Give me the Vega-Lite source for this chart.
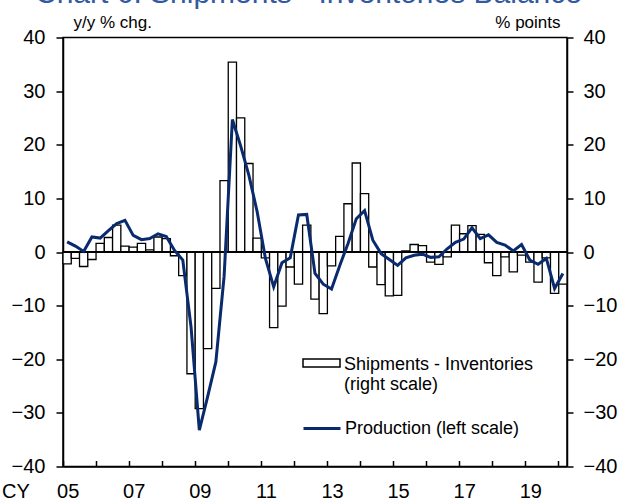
{
  "$schema": "https://vega.github.io/schema/vega-lite/v6.json",
  "autosize": {"type": "none"},
  "padding": {"left": 63, "top": 37.5, "right": 52, "bottom": 34.5},
  "width": 504,
  "height": 429,
  "config": {
    "font": "Liberation Sans",
    "view": {"stroke": "black", "strokeWidth": 1.5},
    "axis": {"grid": false}
  },
  "title": {
    "text": "Chart 6: Shipments - Inventories Balance",
    "anchor": "start",
    "frame": "group",
    "fontSize": 30,
    "fontWeight": "normal",
    "color": "#3359A0",
    "baseline": "alphabetic",
    "offset": -3,
    "dy": 17,
    "dx": -28
  },
  "data": {
    "values": [
      {"q": "2005Q1", "si": -2.2, "prod": 1.9},
      {"q": "2005Q2", "si": -1.2, "prod": 1.1},
      {"q": "2005Q3", "si": -2.7, "prod": 0.1},
      {"q": "2005Q4", "si": -1.4, "prod": 2.8},
      {"q": "2006Q1", "si": 1.6, "prod": 2.6},
      {"q": "2006Q2", "si": 2.7, "prod": 4.0},
      {"q": "2006Q3", "si": 5.0, "prod": 5.3},
      {"q": "2006Q4", "si": 1.1, "prod": 5.9},
      {"q": "2007Q1", "si": 0.9, "prod": 3.1},
      {"q": "2007Q2", "si": 1.6, "prod": 2.3},
      {"q": "2007Q3", "si": 0.4, "prod": 2.5},
      {"q": "2007Q4", "si": 2.8, "prod": 3.4},
      {"q": "2008Q1", "si": 2.5, "prod": 2.9},
      {"q": "2008Q2", "si": -0.7, "prod": 0.3},
      {"q": "2008Q3", "si": -4.4, "prod": -1.5},
      {"q": "2008Q4", "si": -22.7, "prod": -14.0},
      {"q": "2009Q1", "si": -29.2, "prod": -33.2},
      {"q": "2009Q2", "si": -18.0, "prod": -27.0},
      {"q": "2009Q3", "si": -6.8, "prod": -20.5},
      {"q": "2009Q4", "si": 13.3, "prod": -4.5},
      {"q": "2010Q1", "si": 35.4, "prod": 24.7},
      {"q": "2010Q2", "si": 25.0, "prod": 19.8},
      {"q": "2010Q3", "si": 16.5, "prod": 14.3},
      {"q": "2010Q4", "si": 2.6, "prod": 7.5},
      {"q": "2011Q1", "si": -1.1, "prod": -1.2},
      {"q": "2011Q2", "si": -14.1, "prod": -6.5},
      {"q": "2011Q3", "si": -10.1, "prod": -2.0},
      {"q": "2011Q4", "si": -2.8, "prod": -1.1},
      {"q": "2012Q1", "si": -6.0, "prod": 6.9},
      {"q": "2012Q2", "si": 5.0, "prod": 7.0},
      {"q": "2012Q3", "si": -8.8, "prod": -4.0},
      {"q": "2012Q4", "si": -11.5, "prod": -6.0},
      {"q": "2013Q1", "si": -2.6, "prod": -6.9},
      {"q": "2013Q2", "si": 2.9, "prod": -2.5},
      {"q": "2013Q3", "si": 9.0, "prod": 1.6},
      {"q": "2013Q4", "si": 16.6, "prod": 6.2},
      {"q": "2014Q1", "si": 10.9, "prod": 7.7},
      {"q": "2014Q2", "si": -2.8, "prod": 2.2},
      {"q": "2014Q3", "si": -6.1, "prod": -0.3},
      {"q": "2014Q4", "si": -8.2, "prod": -1.4},
      {"q": "2015Q1", "si": -8.1, "prod": -2.5},
      {"q": "2015Q2", "si": 0.2, "prod": -1.1},
      {"q": "2015Q3", "si": 1.4, "prod": -0.6},
      {"q": "2015Q4", "si": 1.2, "prod": -0.4},
      {"q": "2016Q1", "si": -1.9, "prod": -1.0},
      {"q": "2016Q2", "si": -2.3, "prod": -0.9},
      {"q": "2016Q3", "si": -0.9, "prod": 0.6},
      {"q": "2016Q4", "si": 5.0, "prod": 1.8},
      {"q": "2017Q1", "si": 3.4, "prod": 2.4},
      {"q": "2017Q2", "si": 4.9, "prod": 4.5},
      {"q": "2017Q3", "si": 3.3, "prod": 2.5},
      {"q": "2017Q4", "si": -2.0, "prod": 3.2},
      {"q": "2018Q1", "si": -4.4, "prod": 1.8},
      {"q": "2018Q2", "si": -0.9, "prod": 1.3},
      {"q": "2018Q3", "si": -3.7, "prod": 0.2},
      {"q": "2018Q4", "si": -0.6, "prod": 1.4},
      {"q": "2019Q1", "si": -1.9, "prod": -1.5},
      {"q": "2019Q2", "si": -5.6, "prod": -2.3},
      {"q": "2019Q3", "si": -1.1, "prod": -1.2},
      {"q": "2019Q4", "si": -7.7, "prod": -6.8},
      {"q": "2020Q1", "si": -6.0, "prod": -4.0}
    ]
  },
  "layer": [
    {
      "mark": {"type": "bar", "fill": "white", "stroke": "black", "strokeWidth": 1.3},
      "encoding": {
        "x": {
          "field": "q", "type": "ordinal", "sort": null,
          "scale": {"paddingInner": 0, "paddingOuter": 0},
          "axis": {
            "values": ["2005Q1","2006Q1","2007Q1","2008Q1","2009Q1","2010Q1","2011Q1","2012Q1","2013Q1","2014Q1","2015Q1","2016Q1","2017Q1","2018Q1","2019Q1","2020Q1"],
            "bandPosition": 0,
            "labelExpr": "toNumber(substring(datum.value, 0, 4)) % 2 == 1 ? substring(datum.value, 2, 4) : ''",
            "labelOffset": 1,
            "labelAngle": 0,
            "labelOverlap": false,
            "labelBound": false,
            "tickSize": -6,
            "tickColor": "black",
            "tickWidth": 1.5,
            "domainColor": "black",
            "domainWidth": 1.5,
            "labelPadding": 21,
            "labelFontSize": 20,
            "labelColor": "black",
            "title": "CY",
            "titleX": -47.5,
            "titleY": 25,
            "titleAlign": "center",
            "titleBaseline": "middle",
            "titleFontSize": 20,
            "titleFontWeight": "normal",
            "titleColor": "black"
          }
        },
        "y": {
          "field": "si", "type": "quantitative",
          "scale": {"domain": [-40, 40], "nice": false},
          "axis": {
            "orient": "right",
            "values": [-40, -30, -20, -10, 0, 10, 20, 30, 40],
            "tickSize": 6, "tickWidth": 1.5, "tickColor": "black",
            "domainColor": "black", "domainWidth": 1.5,
            "labelPadding": 10, "labelFontSize": 20, "labelColor": "black",
            "title": "% points", "titleAngle": 0, "titleAlign": "right",
            "titleX": -7, "titleY": -10.5, "titleBaseline": "alphabetic",
            "titleFontSize": 17, "titleFontWeight": "normal", "titleColor": "black"
          }
        },
        "fill": {
          "datum": "Shipments - Inventories|(right scale)",
          "scale": {"range": ["white"]},
          "legend": {
            "orient": "none", "legendX": 239, "legendY": 299, "title": null, "padding": 0,
            "symbolType": "M-1,0.162H1V0.595H-1Z", "symbolSize": 1369,
            "symbolStrokeColor": "black", "symbolStrokeWidth": 1.5, "symbolFillColor": "white",
            "labelExpr": "split(datum.label, '|')",
            "labelFontSize": 18, "labelColor": "black", "labelOffset": 3,
            "labelBaseline": "top", "labelLimit": 400
          }
        }
      }
    },
    {
      "mark": {"type": "rule", "color": "black", "strokeWidth": 2},
      "encoding": {
        "y": {"datum": 0, "type": "quantitative", "scale": {"domain": [-40, 40], "nice": false}, "axis": null}
      }
    },
    {
      "mark": {"type": "line", "strokeWidth": 3},
      "encoding": {
        "x": {
          "field": "q", "type": "ordinal", "sort": null,
          "scale": {"paddingInner": 0, "paddingOuter": 0},
          "axis": {
            "values": ["2005Q1","2006Q1","2007Q1","2008Q1","2009Q1","2010Q1","2011Q1","2012Q1","2013Q1","2014Q1","2015Q1","2016Q1","2017Q1","2018Q1","2019Q1","2020Q1"],
            "bandPosition": 0,
            "labelExpr": "toNumber(substring(datum.value, 0, 4)) % 2 == 1 ? substring(datum.value, 2, 4) : ''",
            "labelOffset": 1,
            "labelAngle": 0,
            "labelOverlap": false,
            "labelBound": false,
            "tickSize": -6,
            "tickColor": "black",
            "tickWidth": 1.5,
            "domainColor": "black",
            "domainWidth": 1.5,
            "labelPadding": 21,
            "labelFontSize": 20,
            "labelColor": "black",
            "title": "CY",
            "titleX": -47.5,
            "titleY": 25,
            "titleAlign": "center",
            "titleBaseline": "middle",
            "titleFontSize": 20,
            "titleFontWeight": "normal",
            "titleColor": "black"
          }
        },
        "y": {
          "field": "prod", "type": "quantitative",
          "scale": {"domain": [-40, 40], "nice": false},
          "axis": {
            "orient": "left",
            "values": [-40, -30, -20, -10, 0, 10, 20, 30, 40],
            "tickSize": 7, "tickWidth": 1.5, "tickColor": "black",
            "domainColor": "black", "domainWidth": 1.5,
            "labelPadding": 11, "labelFontSize": 20, "labelColor": "black",
            "title": "y/y % chg.", "titleAngle": 0, "titleAlign": "left",
            "titleX": 10, "titleY": -10.5, "titleBaseline": "alphabetic",
            "titleFontSize": 17, "titleFontWeight": "normal", "titleColor": "black"
          }
        },
        "stroke": {
          "datum": "Production (left scale)",
          "scale": {"range": ["#0A2A6E"]},
          "legend": {
            "orient": "none", "legendX": 239, "legendY": 371, "title": null, "padding": 0,
            "symbolType": "stroke", "symbolSize": 1369, "symbolStrokeWidth": 3,
            "labelFontSize": 18, "labelColor": "black", "labelOffset": 3,
            "labelBaseline": "middle", "labelLimit": 400
          }
        }
      }
    }
  ],
  "resolve": {"scale": {"y": "independent"}}
}
